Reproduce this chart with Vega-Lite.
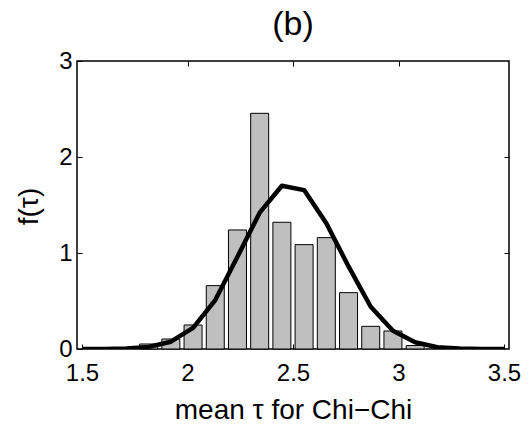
{
  "$schema": "https://vega.github.io/schema/vega-lite/v6.json",
  "autosize": "none",
  "width": 432,
  "height": 288,
  "padding": {"left": 77, "top": 61, "right": 21, "bottom": 76},
  "background": "white",
  "config": {
    "view": {"stroke": "black", "strokeWidth": 1.5},
    "font": "Liberation Sans",
    "axis": {
      "grid": false,
      "domain": false,
      "tickColor": "black",
      "tickSize": -5,
      "tickWidth": 1,
      "labelColor": "black",
      "labelFont": "Liberation Sans",
      "labelFontSize": 24,
      "titleColor": "black",
      "titleFont": "Liberation Sans",
      "titleFontWeight": "normal",
      "titleFontSize": 28
    }
  },
  "title": {
    "text": "(b)",
    "fontSize": 34,
    "font": "Liberation Sans",
    "fontWeight": "normal",
    "color": "black",
    "baseline": "alphabetic",
    "offset": -20
  },
  "datasets": {
    "bars": [
      {"tau": 1.8158, "f": 0.052},
      {"tau": 1.9211, "f": 0.104},
      {"tau": 2.0263, "f": 0.25},
      {"tau": 2.1316, "f": 0.66},
      {"tau": 2.2368, "f": 1.24},
      {"tau": 2.3421, "f": 2.455},
      {"tau": 2.4474, "f": 1.32},
      {"tau": 2.5526, "f": 1.087},
      {"tau": 2.6579, "f": 1.16},
      {"tau": 2.7632, "f": 0.587},
      {"tau": 2.8684, "f": 0.236},
      {"tau": 2.9737, "f": 0.1875},
      {"tau": 3.0789, "f": 0.036}
    ],
    "fit": [
      {"tau": 1.5, "f": 0.0},
      {"tau": 1.6053, "f": 0.001},
      {"tau": 1.7105, "f": 0.005},
      {"tau": 1.8158, "f": 0.022},
      {"tau": 1.9211, "f": 0.076},
      {"tau": 2.0263, "f": 0.22},
      {"tau": 2.1316, "f": 0.51},
      {"tau": 2.2368, "f": 0.96},
      {"tau": 2.3421, "f": 1.42},
      {"tau": 2.4474, "f": 1.70},
      {"tau": 2.5526, "f": 1.655},
      {"tau": 2.6579, "f": 1.31},
      {"tau": 2.7632, "f": 0.86},
      {"tau": 2.8684, "f": 0.44},
      {"tau": 2.9737, "f": 0.19},
      {"tau": 3.0789, "f": 0.07},
      {"tau": 3.1842, "f": 0.018},
      {"tau": 3.2895, "f": 0.004},
      {"tau": 3.3947, "f": 0.001},
      {"tau": 3.5, "f": 0.0}
    ]
  },
  "layer": [
    {
      "data": {"name": "bars"},
      "mark": {"type": "bar", "size": 18, "fill": "#bfbfbf", "stroke": "black", "strokeWidth": 1, "orient": "vertical"},
      "encoding": {
        "x": {
          "field": "tau", "type": "quantitative",
          "scale": {"domain": [1.5, 3.5], "nice": false, "zero": false},
          "axis": {"orient": "bottom", "values": [1.5, 2, 2.5, 3, 3.5], "format": "~g", "labelPadding": 17, "labelBaseline": "top", "labelFlush": false, "title": "mean τ for Chi−Chi", "titleBaseline": "alphabetic", "titleY": 69}
        },
        "y": {
          "field": "f", "type": "quantitative",
          "scale": {"domain": [0, 3], "nice": false},
          "axis": {"orient": "left", "values": [0, 1, 2, 3], "labelPadding": 10, "labelFlush": false, "title": "f(τ)", "titleAngle": -90, "titleBaseline": "alphabetic", "titleAlign": "center", "titleX": -40, "titleY": 145}
        }
      }
    },
    {
      "data": {"name": "fit"},
      "mark": {"type": "line", "color": "black", "strokeWidth": 4.5, "strokeJoin": "round", "strokeCap": "butt", "clip": true},
      "encoding": {
        "x": {"field": "tau", "type": "quantitative", "axis": {"orient": "top", "values": [2, 2.5, 3], "labels": false, "title": null}},
        "y": {"field": "f", "type": "quantitative", "axis": {"orient": "right", "values": [1, 2], "labels": false, "title": null}}
      }
    }
  ],
  "resolve": {"axis": {"x": "independent", "y": "independent"}}
}
